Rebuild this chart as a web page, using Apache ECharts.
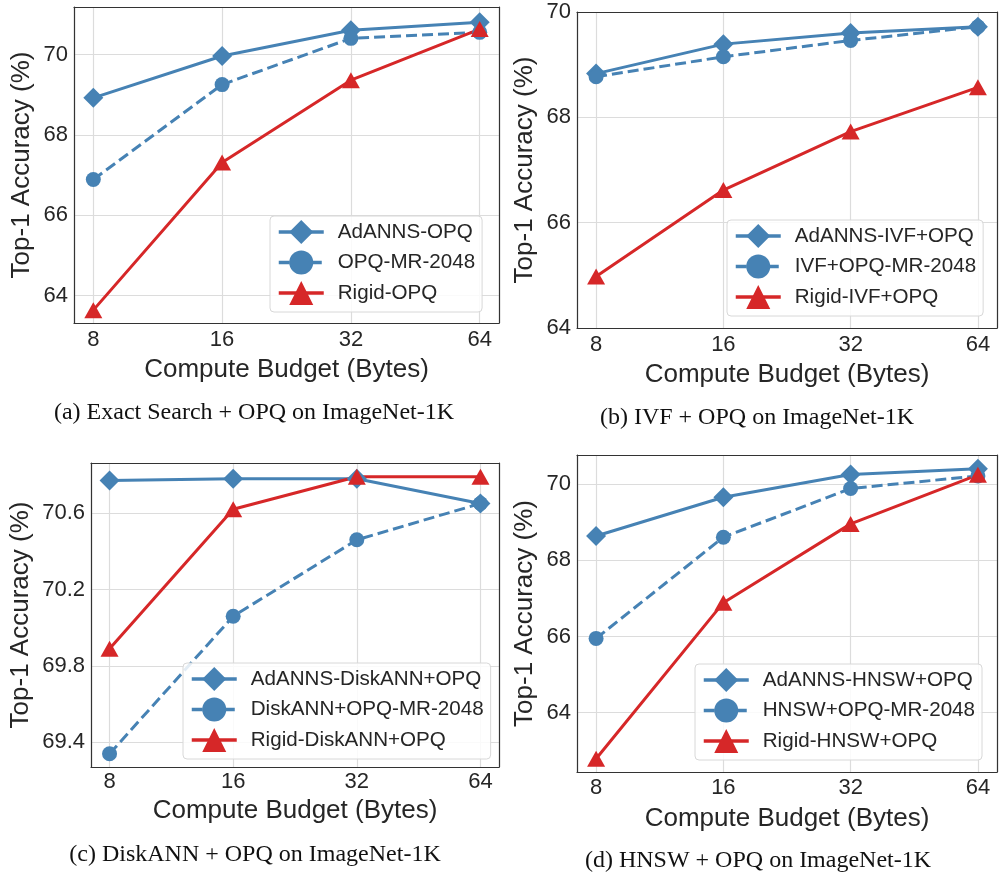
<!DOCTYPE html>
<html>
<head>
<meta charset="utf-8">
<script src="https://cdn.jsdelivr.net/npm/echarts@6/dist/echarts.min.js"></script>
<style>
html,body{margin:0;padding:0;background:#fff;}
#chart{width:1000px;height:875px;}
</style>
</head>
<body>
<div id="chart"></div>
<script>
// ---------- DATA ----------
const budgets = [8, 16, 32, 64];

const namesA = ['AdANNS-OPQ', 'OPQ-MR-2048', 'Rigid-OPQ'];
const adannsA = [68.92, 69.96, 70.60, 70.80];
const mrA     = [66.89, 69.25, 70.40, 70.55];
const rigidA  = [63.64, 67.31, 69.36, 70.63];
const yTicksA = [64, 66, 68, 70];

const namesB = ['AdANNS-IVF+OPQ', 'IVF+OPQ-MR-2048', 'Rigid-IVF+OPQ'];
const adannsB = [68.83, 69.39, 69.60, 69.72];
const mrB     = [68.77, 69.15, 69.46, 69.72];
const rigidB  = [64.98, 66.62, 67.73, 68.57];
const yTicksB = [64, 66, 68, 70];

const namesC = ['AdANNS-DiskANN+OPQ', 'DiskANN+OPQ-MR-2048', 'Rigid-DiskANN+OPQ'];
const adannsC = [70.77, 70.78, 70.78, 70.65];
const mrC     = [69.34, 70.06, 70.46, 70.65];
const rigidC  = [69.89, 70.62, 70.79, 70.79];
const yTicksC = [69.4, 69.8, 70.2, 70.6];

const namesD = ['AdANNS-HNSW+OPQ', 'HNSW+OPQ-MR-2048', 'Rigid-HNSW+OPQ'];
const adannsD = [68.64, 69.66, 70.26, 70.41];
const mrD     = [65.95, 68.61, 69.89, 70.22];
const rigidD  = [62.79, 66.89, 68.96, 70.25];
const yTicksD = [64, 66, 68, 70];

const captions = [
  '(a) Exact Search + OPQ on ImageNet-1K',
  '(b) IVF + OPQ on ImageNet-1K',
  '(c) DiskANN + OPQ on ImageNet-1K',
  '(d) HNSW + OPQ on ImageNet-1K'
];
const xTitle = 'Compute Budget (Bytes)';
const yTitle = 'Top-1 Accuracy (%)';

// ---------- STYLE / LAYOUT ----------
const BLUE = '#4682b4', RED = '#d62728', TXT = '#262626';
const SANS = '"Liberation Sans", Arial, Helvetica, sans-serif';
const SERIF = '"Liberation Serif", "Times New Roman", serif';

const panels = [
  {names: namesA, ad: adannsA, mr: mrA, rg: rigidA, ticks: yTicksA, ymin: 63.32, ymax: 71.18,
   grid: {left: 74, top: 7, width: 425, height: 316}, xLblM: 6, xNameGap: 34, yLblM: 6, yNameGap: 39,
   legend: {left: 270, top: 216}, cap: {x: 254, y: 413}},
  {names: namesB, ad: adannsB, mr: mrB, rg: rigidB, ticks: yTicksB, ymin: 64, ymax: 70,
   grid: {left: 577, top: 12, width: 422, height: 316}, xLblM: 6, xNameGap: 34, yLblM: 6, yNameGap: 39,
   legend: {left: 727, top: 220}, cap: {x: 757, y: 418}},
  {names: namesC, ad: adannsC, mr: mrC, rg: rigidC, ticks: yTicksC, ymin: 69.271, ymax: 70.862,
   grid: {left: 91, top: 463, width: 408, height: 304}, xLblM: 4, xNameGap: 31, yLblM: 6, yNameGap: 57,
   legend: {left: 183, top: 663}, cap: {x: 255, y: 855}},
  {names: namesD, ad: adannsD, mr: mrD, rg: rigidD, ticks: yTicksD, ymin: 62.44, ymax: 70.77,
   grid: {left: 577, top: 455, width: 422, height: 317}, xLblM: 5, xNameGap: 34, yLblM: 6, yNameGap: 39,
   legend: {left: 695, top: 664}, cap: {x: 758, y: 861}}
];

const pad = Math.pow(2, 0.15);
const grids = [], xAxes = [], yAxes = [], series = [], legends = [], graphics = [];

panels.forEach((p, i) => {
  grids.push(Object.assign({containLabel: false}, p.grid));
  xAxes.push({
    type: 'log', logBase: 2, gridIndex: i,
    min: budgets[0] / pad, max: budgets[budgets.length - 1] * pad,
    name: xTitle, nameLocation: 'middle', nameGap: p.xNameGap,
    nameTextStyle: {fontFamily: SANS, fontSize: 26, color: TXT},
    axisLine: {show: true, lineStyle: {color: '#333', width: 1.2}},
    axisTick: {show: false},
    axisLabel: {margin: p.xLblM, fontFamily: SANS, fontSize: 22, color: TXT,
      formatter: v => { const l = Math.log2(v); return Math.abs(l - Math.round(l)) < 1e-6 ? String(Math.round(v)) : ''; }},
    splitLine: {show: true, lineStyle: {color: '#dcdcdc', width: 1.2}}
  });
  // top frame
  xAxes.push({
    type: 'value', gridIndex: i, position: 'top', min: 0, max: 1,
    axisLine: {show: true, onZero: false, lineStyle: {color: '#333', width: 1.2}},
    axisTick: {show: false}, axisLabel: {show: false}, splitLine: {show: false}
  });
  yAxes.push({
    type: 'value', gridIndex: i, min: p.ymin, max: p.ymax,
    name: yTitle, nameLocation: 'middle', nameGap: p.yNameGap, nameRotate: 90,
    nameTextStyle: {fontFamily: SANS, fontSize: 26, color: TXT},
    axisLine: {show: true, onZero: false, lineStyle: {color: '#333', width: 1.2}},
    axisTick: {show: false, customValues: p.ticks},
    axisLabel: {margin: p.yLblM, fontFamily: SANS, fontSize: 22, color: TXT, customValues: p.ticks},
    splitLine: {show: true, lineStyle: {color: '#dcdcdc', width: 1.2}}
  });
  // right frame
  yAxes.push({
    type: 'value', gridIndex: i, position: 'right', min: 0, max: 1,
    axisLine: {show: true, onZero: false, lineStyle: {color: '#333', width: 1.2}},
    axisTick: {show: false}, axisLabel: {show: false}, splitLine: {show: false}
  });
  const xi = 2 * i, yi = 2 * i;
  const mk = (name, vals, color, symbol, size, dashed) => ({
    name, type: 'line', xAxisIndex: xi, yAxisIndex: yi,
    data: budgets.map((b, k) => [b, vals[k]]),
    symbol, symbolSize: size, showSymbol: true,
    lineStyle: {color, width: 3, type: dashed ? [11, 5] : 'solid'},
    itemStyle: {color},
    emphasis: {disabled: true}, animation: false, clip: false
  });
  series.push(mk(p.names[0], p.ad, BLUE, 'diamond', [20, 20], false));
  series.push(mk(p.names[1], p.mr, BLUE, 'circle', 15, true));
  series.push(mk(p.names[2], p.rg, RED, 'triangle', [18, 16], false));
  legends.push({
    data: p.names, orient: 'vertical', left: p.legend.left, top: p.legend.top,
    itemWidth: 45, itemHeight: 30, itemGap: 6.5,
    padding: [4, 7, 7, 7],
    lineStyle: {width: 3.5},
    backgroundColor: 'rgba(255,255,255,0.85)', borderColor: '#d8d8d8', borderWidth: 1, borderRadius: 4,
    textStyle: {fontFamily: SANS, fontSize: 20.6, color: TXT, padding: [0, 0, 0, 9]},
    selectedMode: false
  });
  graphics.push({
    type: 'text', x: p.cap.x, y: p.cap.y,
    style: {text: captions[i], font: '24px ' + SERIF, fill: '#111', textAlign: 'center', textVerticalAlign: 'middle'}
  });
});

const chart = echarts.init(document.getElementById('chart'), null, {renderer: 'canvas'});
chart.setOption({
  backgroundColor: '#fff',
  animation: false,
  grid: grids, xAxis: xAxes, yAxis: yAxes, series: series, legend: legends, graphic: graphics
});
</script>
</body>
</html>
